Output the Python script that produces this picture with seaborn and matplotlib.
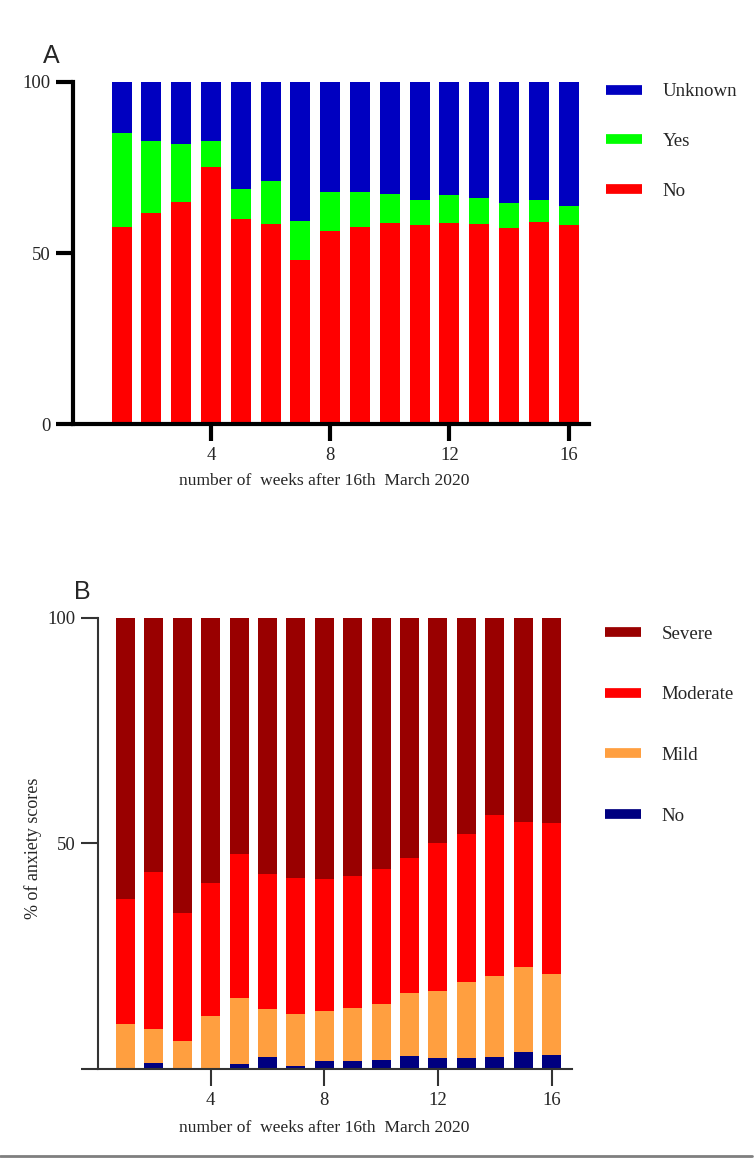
import numpy as np
import matplotlib
matplotlib.use("Agg")
import matplotlib.pyplot as plt
from matplotlib.lines import Line2D
import seaborn as sns

# weeks after 16th March 2020
weeks = list(range(1, 17))

# panel A: percentages per week
a_labels = ["Unknown", "Yes", "No"]
a_no = [57.6, 61.7, 64.9, 75.1, 60.0, 58.5, 48.0, 56.3, 57.6, 58.8, 58.2, 58.8, 58.5, 57.4, 59.0, 58.2]
a_yes = [27.4, 20.9, 16.9, 7.5, 8.6, 12.5, 11.4, 11.5, 10.2, 8.5, 7.3, 8.2, 7.5, 7.2, 6.5, 5.6]
a_unknown = [15.0, 17.4, 18.2, 17.4, 31.4, 29.0, 40.6, 32.2, 32.2, 32.7, 34.5, 33.0, 34.0, 35.4, 34.5, 36.2]
a_colors = ["#0000C0", "#00FF00", "#FF0000"]

# panel B: % of anxiety scores per week
b_labels = ["Severe", "Moderate", "Mild", "No"]
b_no = [0.0, 1.3, 0.0, 0.0, 1.1, 2.7, 0.7, 1.9, 1.9, 2.1, 3.0, 2.4, 2.4, 2.7, 3.8, 3.2]
b_mild = [10.0, 7.6, 6.2, 11.7, 14.7, 10.6, 11.6, 11.0, 11.6, 12.4, 13.8, 15.0, 16.9, 18.0, 18.9, 17.8]
b_moderate = [27.7, 34.7, 28.3, 29.5, 31.9, 29.9, 30.1, 29.2, 29.3, 29.9, 29.9, 32.7, 32.7, 35.5, 32.1, 33.5]
b_severe = [62.3, 56.4, 65.5, 58.8, 52.3, 56.8, 57.6, 57.9, 57.2, 55.6, 53.3, 49.9, 48.0, 43.8, 45.2, 45.5]
b_colors = ["#990000", "#FF0000", "#FF9F40", "#000080"]

XLABEL = "number of  weeks after 16th  March 2020"
SERIF = ["Liberation Serif", "DejaVu Serif"]


def stacked(ax, series, colors):
    # series given top -> bottom; draw tallest cumulative first
    cums = np.cumsum(np.array(series[::-1]), axis=0)[::-1]
    for cum, col in zip(cums, colors):
        sns.barplot(x=weeks, y=cum, color=col, width=0.67, native_scale=True,
                    saturation=1, errorbar=None, linewidth=0, ax=ax, clip_on=False)


def style_axes(ax, lw, color, xlim):
    sns.despine(ax=ax)
    ax.set_xlim(*xlim)
    ax.set_ylim(0, 100)
    for s in ["left", "bottom"]:
        ax.spines[s].set_linewidth(lw)
        ax.spines[s].set_color(color)
    ax.tick_params(length=12, width=lw, color=color, labelsize=13.5, pad=4)
    ax.set_xticks([4, 8, 12, 16])
    for t in ax.get_xticklabels() + ax.get_yticklabels():
        t.set_family(SERIF)


def legend(ax, labels, colors, anchor, spacing):
    handles = [Line2D([], [], color=c, lw=7, solid_capstyle="butt") for c in colors]
    ax.legend(handles, labels, loc="upper left", bbox_to_anchor=anchor,
              bbox_transform=ax.figure.transFigure, frameon=False,
              handlelength=1.9, handletextpad=1.1, labelspacing=spacing,
              borderpad=0, borderaxespad=0, prop={"family": SERIF, "size": 13.6})


sns.set_style("ticks")
plt.rcParams["font.family"] = ["Liberation Sans", "DejaVu Sans"]

fig = plt.figure(figsize=(7.55, 11.58), dpi=100)

# panel A
ax1 = fig.add_axes([0.0963, 0.6336, 0.6837, 0.2958])
stacked(ax1, [a_unknown, a_yes, a_no], a_colors)
style_axes(ax1, 3, "black", (-0.64, 16.68))
ax1.set_yticks([0, 50, 100])
ax1.set_xlabel(XLABEL, family=SERIF, fontsize=12.6)
ax1.xaxis.set_label_coords(0.4867, -0.142)
legend(ax1, a_labels, a_colors, (0.803, 0.9284), 1.72)
fig.text(0.0675, 0.952, "A", fontsize=18, ha="center", va="center")

# panel B
ax2 = fig.add_axes([0.1294, 0.0766, 0.6278, 0.39])
stacked(ax2, [b_severe, b_moderate, b_mild, b_no], b_colors)
style_axes(ax2, 1.5, "#333333", (0.02, 16.71))
ax2.set_yticks([0, 50, 100])
ax2.set_yticklabels(["", "50", "100"])
ax2.set_xlabel(XLABEL, family=SERIF, fontsize=12.6)
ax2.xaxis.set_label_coords(0.4774, -0.112)
ax2.set_ylabel("% of anxiety scores", family=SERIF, fontsize=13)
ax2.yaxis.set_label_coords(-0.118, 0.49)
legend(ax2, b_labels, b_colors, (0.801, 0.4599), 2.3)
fig.text(0.1086, 0.4888, "B", fontsize=18, ha="center", va="center")

# thin grey rule at the bottom
fig.add_artist(Line2D([0, 0.996], [0.0013, 0.0013], transform=fig.transFigure,
                      color="#7f7f7f", lw=2))

fig.savefig("out.png", dpi=100)
